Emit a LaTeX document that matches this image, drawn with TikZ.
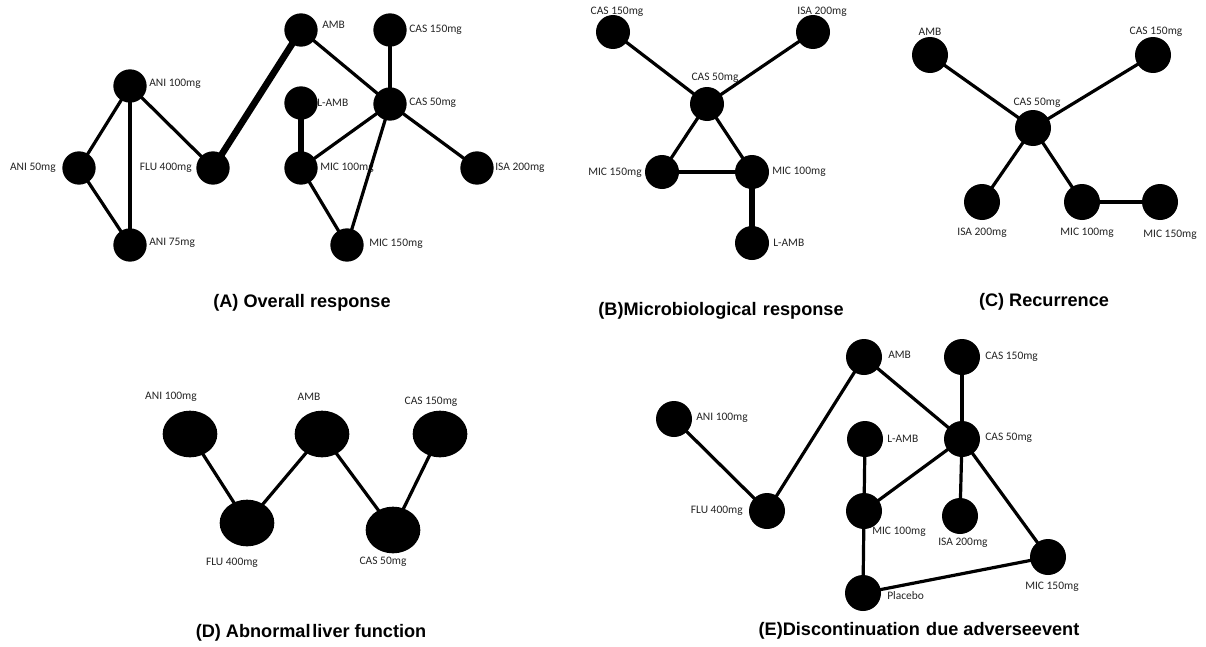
\documentclass[tikz,border=0pt]{standalone}
\usepackage{fontspec}
\setmainfont{Carlito}
\newfontfamily\headfont{Liberation Sans}
\usetikzlibrary{shapes.geometric}
\pgfdeclarelayer{lab}
\pgfdeclarelayer{edge}
\pgfsetlayers{lab,edge,main}
\tikzset{
  dot/.style={circle,fill=black,inner sep=0pt,minimum size=#1},
  dot/.default=25.5pt,
  egg/.style={ellipse,fill=black,inner sep=0pt,minimum width=41pt,minimum height=35pt},
  tag/.style={font=\fontsize{8.6}{10}\selectfont,text=black!86,inner sep=0pt},
  link/.style={line width=2.4pt},
  boldlink/.style={line width=5pt},
  caption/.style={font=\headfont\bfseries\fontsize{13.6}{16}\selectfont,inner sep=0pt}
}
\begin{document}
\begin{tikzpicture}[x=0.75pt,y=-0.75pt]
\useasboundingbox (0,0) rectangle (1206,646);

% ---------- (A) Overall response ----------
\node[dot=25pt] (a1) at (130,86) {};
\node[dot=25pt] (a2) at (79,168) {};
\node[dot=25pt] (a3) at (130,245) {};
\node[dot=25pt] (a4) at (213,168) {};
\node[dot=25pt] (a5) at (301,30) {};
\node[dot=25pt] (a6) at (390,30) {};
\node[dot=25pt] (a7) at (301,103) {};
\node[dot=25pt] (a8) at (390,104) {};
\node[dot=25pt] (a9) at (301,168) {};
\node[dot=25pt] (a10) at (477,168) {};
\node[dot=25pt] (a11) at (347,245) {};
\begin{pgfonlayer}{lab}
\node[tag,anchor=west] (la1) at (149,84) {ANI 100mg};
\node[tag,anchor=east] (la2) at (56,168) {ANI 50mg};
\node[tag,anchor=west] (la3) at (149,243) {ANI 75mg};
\node[tag,anchor=east] (la4) at (192,168) {FLU 400mg};
\node[tag,anchor=west] (la5) at (322,25) {AMB};
\node[tag,anchor=west] (la6) at (409,30) {CAS 150mg};
\node[tag,anchor=west] (la7) at (317,103) {L-AMB};
\node[tag,anchor=west] (la8) at (409,103) {CAS 50mg};
\node[tag,anchor=west] (la9) at (320,168) {MIC 100mg};
\node[tag,anchor=west] (la10) at (495,168) {ISA 200mg};
\node[tag,anchor=west] (la11) at (369,244) {MIC 150mg};
\end{pgfonlayer}
\begin{pgfonlayer}{edge}
\draw[link] (a1.center) -- (a2.center);
\draw[link] (a1.center) -- (a3.center);
\draw[link] (a1.center) -- (a4.center);
\draw[link] (a2.center) -- (a3.center);
\draw[boldlink] (a4.center) -- (a5.center);
\draw[link] (a5.center) -- (a8.center);
\draw[link] (a6.center) -- (a8.center);
\draw[boldlink] (a7.center) -- (a9.center);
\draw[link] (a8.center) -- (a9.center);
\draw[link] (a8.center) -- (a10.center);
\draw[link] (a8.center) -- (a11.center);
\draw[link] (a9.center) -- (a11.center);
\end{pgfonlayer}
\node[caption] (ta) at (302,303) {(A) Overall response};

% ---------- (B) Microbiological response ----------
\node[dot] (b1) at (613,32) {};
\node[dot] (b2) at (813,32) {};
\node[dot] (b3) at (707,104) {};
\node[dot] (b4) at (662,172) {};
\node[dot] (b5) at (752,172) {};
\node[dot] (b6) at (752,243) {};
\begin{pgfonlayer}{lab}
\node[tag] (lb1) at (617,12) {CAS 150mg};
\node[tag] (lb2) at (822,12) {ISA 200mg};
\node[tag] (lb3) at (715,78) {CAS 50mg};
\node[tag,anchor=west] (lb4) at (588,173) {MIC 150mg};
\node[tag,anchor=west] (lb5) at (772,172) {MIC 100mg};
\node[tag,anchor=west] (lb6) at (773,243) {L-AMB};
\end{pgfonlayer}
\begin{pgfonlayer}{edge}
\draw[link] (b1.center) -- (b3.center);
\draw[link] (b2.center) -- (b3.center);
\draw[link] (b3.center) -- (b4.center);
\draw[link] (b3.center) -- (b5.center);
\draw[link] (b4.center) -- (b5.center);
\draw[boldlink] (b5.center) -- (b6.center);
\end{pgfonlayer}
\node[caption] (tb) at (721,311) {(B)Microbiological\hspace{0.35em}response};

% ---------- (C) Recurrence ----------
\node[dot=27pt] (c1) at (930,55) {};
\node[dot=27pt] (c2) at (1153,55) {};
\node[dot=27pt] (c3) at (1033,128) {};
\node[dot=27pt] (c4) at (982,202) {};
\node[dot=27pt] (c5) at (1082,202) {};
\node[dot=27pt] (c6) at (1160,202) {};
\begin{pgfonlayer}{lab}
\node[tag] (lc1) at (930,32) {AMB};
\node[tag] (lc2) at (1156,32) {CAS 150mg};
\node[tag] (lc3) at (1037,103) {CAS 50mg};
\node[tag] (lc4) at (982,233) {ISA 200mg};
\node[tag] (lc5) at (1087,233) {MIC 100mg};
\node[tag] (lc6) at (1170,235) {MIC 150mg};
\end{pgfonlayer}
\begin{pgfonlayer}{edge}
\draw[link] (c1.center) -- (c3.center);
\draw[link] (c2.center) -- (c3.center);
\draw[link] (c3.center) -- (c4.center);
\draw[link] (c3.center) -- (c5.center);
\draw[link] (c5.center) -- (c6.center);
\end{pgfonlayer}
\node[caption] (tc) at (1044,302) {(C) Recurrence};

% ---------- (D) Abnormal liver function ----------
\node[egg] (d1) at (190,434) {};
\node[egg] (d2) at (247,523) {};
\node[egg] (d3) at (322,434) {};
\node[egg] (d4) at (393,530) {};
\node[egg] (d5) at (440,434) {};
\begin{pgfonlayer}{lab}
\node[tag] (ld1) at (171,397) {ANI 100mg};
\node[tag] (ld2) at (232,563) {FLU 400mg};
\node[tag] (ld3) at (309,397) {AMB};
\node[tag] (ld4) at (383,562) {CAS 50mg};
\node[tag] (ld5) at (431,402) {CAS 150mg};
\end{pgfonlayer}
\begin{pgfonlayer}{edge}
\draw[link] (d1.center) -- (d2.center);
\draw[link] (d2.center) -- (d3.center);
\draw[link] (d3.center) -- (d4.center);
\draw[link] (d4.center) -- (d5.center);
\end{pgfonlayer}
\node[caption] (td) at (311,633) {(D) Abnormal\hspace{0.1em}liver function};

% ---------- (E) Discontinuation due adverse event ----------
\node[dot=27pt] (e1) at (864,357) {};
\node[dot=27pt] (e2) at (962,357) {};
\node[dot=27pt] (e3) at (674,419) {};
\node[dot=27pt] (e4) at (865,439) {};
\node[dot=27pt] (e5) at (962,439) {};
\node[dot=27pt] (e6) at (767,511) {};
\node[dot=27pt] (e7) at (864,511) {};
\node[dot=27pt] (e8) at (960,516) {};
\node[dot=27pt] (e9) at (1048,557) {};
\node[dot=27pt] (e10) at (863,593) {};
\begin{pgfonlayer}{lab}
\node[tag,anchor=west] (le1) at (888,355) {AMB};
\node[tag,anchor=west] (le2) at (985,357) {CAS 150mg};
\node[tag,anchor=west] (le3) at (696,418) {ANI 100mg};
\node[tag,anchor=west] (le4) at (887,439) {L-AMB};
\node[tag,anchor=west] (le5) at (985,438) {CAS 50mg};
\node[tag,anchor=east] (le6) at (743,511) {FLU 400mg};
\node[tag,anchor=west] (le7) at (872,532) {MIC 100mg};
\node[tag,anchor=west] (le8) at (938,543) {ISA 200mg};
\node[tag,anchor=west] (le9) at (1025,587) {MIC 150mg};
\node[tag,anchor=west] (le10) at (887,596) {Placebo};
\end{pgfonlayer}
\begin{pgfonlayer}{edge}
\draw[link] (e1.center) -- (e5.center);
\draw[link] (e2.center) -- (e5.center);
\draw[link] (e3.center) -- (e6.center);
\draw[link] (e6.center) -- (e1.center);
\draw[link] (e4.center) -- (e7.center);
\draw[link] (e7.center) -- (e5.center);
\draw[link] (e5.center) -- (e8.center);
\draw[link] (e5.center) -- (e9.center);
\draw[link] (e7.center) -- (e10.center);
\draw[link] (e10.center) -- (e9.center);
\end{pgfonlayer}
\node[caption] (te) at (919,631) {(E)Discontinuation\hspace{0.35em}due adverseevent};
\end{tikzpicture}
\end{document}
